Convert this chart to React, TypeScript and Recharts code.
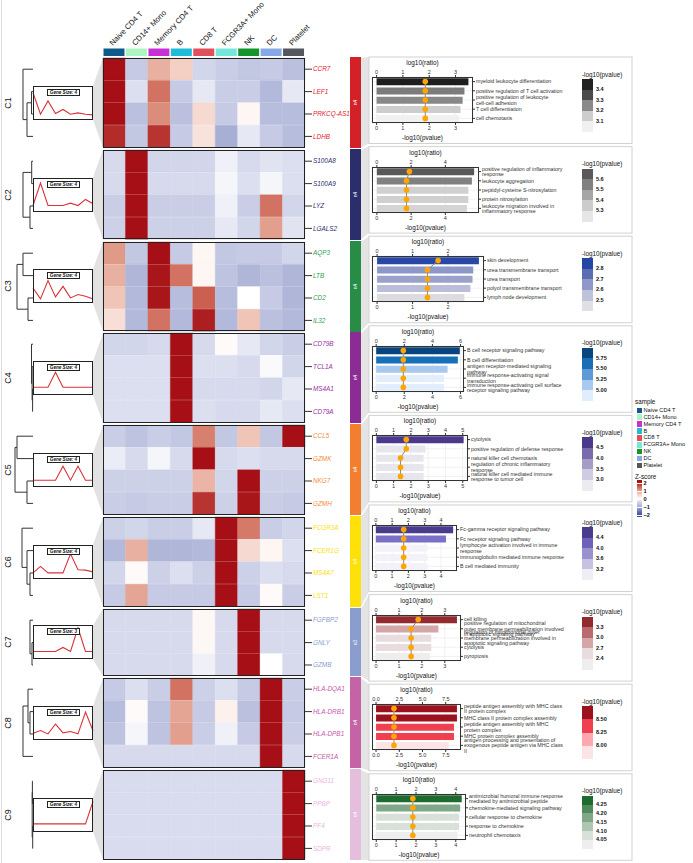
import React from 'react';
import {
  BarChart, Bar, Cell, XAxis, YAxis, LineChart, Line,
  ScatterChart, Scatter, ComposedChart, CartesianGrid,
} from 'recharts';

// ---------------- DATA ----------------
const SAMPLES = ['Naive CD4 T', 'CD14+ Mono', 'Memory CD4 T', 'B', 'CD8 T', 'FCGR3A+ Mono', 'NK', 'DC', 'Platelet'];
const SAMPLE_COLORS = ['#0E5A8A', '#ACF5C2', '#C92FD6', '#1EBCD6', '#E0505C', '#74E6DA', '#13952C', '#86A8E4', '#53575E'];

const CLUSTER_NAMES = ['C1', 'C2', 'C3', 'C4', 'C5', 'C6', 'C7', 'C8', 'C9'];
const CLUSTER_COLORS = ['#D42128', '#2B2E6A', '#268C46', '#8A2C93', '#F37E2E', '#FFE10A', '#8B9DCF', '#C463A6', '#E4BEDC'];
const LABEL_COLORS = ['#E4202C', '#2B2E6A', '#2E9E50', '#9A30A6', '#F58A3A', '#FFE10A', '#8B9DCF', '#C65AA8', '#E8B6E0'];
const CLUSTER_N = ['n4', 'n4', 'n4', 'n4', 'n4', 'n4', 'n3', 'n4', 'n4'];
const GENE_SIZE = [4, 4, 4, 4, 4, 4, 3, 4, 4];

const C1_GENES = ['CCR7', 'LEF1', 'PRKCQ-AS1', 'LDHB'];
const C2_GENES = ['S100A8', 'S100A9', 'LYZ', 'LGALS2'];
const C3_GENES = ['AQP3', 'LTB', 'CD2', 'IL32'];
const C4_GENES = ['CD79B', 'TCL1A', 'MS4A1', 'CD79A'];
const C5_GENES = ['CCL5', 'GZMK', 'NKG7', 'GZMH'];
const C6_GENES = ['FCGR3A', 'FCER1G', 'MS4A7', 'LST1'];
const C7_GENES = ['FGFBP2', 'GNLY', 'GZMB'];
const C8_GENES = ['HLA-DQA1', 'HLA-DRB1', 'HLA-DPB1', 'FCER1A'];
const C9_GENES = ['GNG11', 'PPBP', 'PF4', 'SDPR'];

const C1_Z = [
  [2.5, -0.6, 0.8, 0.5, -0.45, -0.55, -0.65, -0.6, -0.75],
  [2.5, -0.35, 1.3, -0.6, -0.25, -0.55, -0.55, -0.85, -0.25],
  [2.5, -0.75, 1.1, -0.75, 0.4, -0.6, 0.1, -0.8, -0.8],
  [1.8, -0.65, 1.75, -0.6, 0.3, -1.0, -0.25, -0.6, -0.8],
];
const C2_Z = [
  [-0.4, 2.5, -0.45, -0.45, -0.45, -0.15, -0.4, -0.3, -0.35],
  [-0.4, 2.5, -0.4, -0.4, -0.4, -0.1, -0.35, -0.1, -0.35],
  [-0.55, 2.5, -0.55, -0.55, -0.55, -0.15, -0.55, 1.3, -0.45],
  [-0.5, 2.5, -0.5, -0.5, -0.5, -0.25, -0.45, 0.95, -0.3],
];
const C3_Z = [
  [1.0, -0.65, 2.5, -0.6, 0.1, -0.65, -0.6, -0.6, -0.45],
  [0.8, -0.9, 1.95, 1.3, 0.1, -0.7, -0.9, -0.75, -0.9],
  [0.6, -0.85, 1.95, -0.8, 1.45, -0.8, 0.0, -0.6, -0.9],
  [0.35, -0.85, 1.3, -0.85, 1.9, -0.85, 0.6, -0.75, -0.85],
];
const C4_Z = [
  [-0.45, -0.45, -0.4, 2.5, -0.4, 0.05, -0.25, -0.45, -0.55],
  [-0.35, -0.35, -0.35, 2.5, -0.35, -0.35, -0.4, -0.05, -0.45],
  [-0.35, -0.35, -0.35, 2.5, -0.4, -0.4, -0.4, -0.45, -0.25],
  [-0.35, -0.35, -0.35, 2.5, -0.35, -0.4, -0.4, -0.25, -0.35],
];
const C5_Z = [
  [-0.55, -0.7, -0.55, -0.65, 1.2, -0.65, 0.6, -0.65, 2.5],
  [-0.2, -0.4, -0.1, -0.4, 2.5, -0.4, -0.35, -0.4, -0.4],
  [-0.5, -0.5, -0.5, -0.5, 0.75, -0.45, 2.5, -0.5, -0.5],
  [-0.55, -0.6, -0.55, -0.55, 1.75, -0.5, 1.95, -0.55, -0.6],
];
const C6_Z = [
  [-0.5, -0.45, -0.55, -0.55, -0.25, 2.5, 1.25, -0.55, -0.45],
  [-0.85, 0.8, -0.9, -0.9, -0.85, 2.5, 0.4, 0.1, -0.35],
  [-0.45, 0.05, -0.5, -0.35, -0.5, 2.5, -0.5, -0.35, -0.4],
  [-0.6, 0.9, -0.6, -0.6, -0.6, 2.5, -0.6, 0.05, -0.55],
];
const C7_Z = [
  [-0.4, -0.4, -0.4, -0.4, 0.08, -0.4, 2.5, -0.4, -0.4],
  [-0.4, -0.4, -0.4, -0.4, 0.08, -0.4, 2.5, -0.4, -0.4],
  [-0.4, -0.4, -0.4, -0.4, -0.15, -0.4, 2.5, 0.0, -0.4],
];
const C8_Z = [
  [-0.6, -0.35, -0.55, 1.3, -0.5, -0.35, -0.6, 2.5, -0.55],
  [-0.8, 0.05, -0.7, 0.9, -0.6, 0.15, -0.75, 2.5, -0.6],
  [-0.7, -0.1, -0.7, 0.95, -0.55, -0.15, -0.6, 2.5, -0.55],
  [-0.4, -0.4, -0.4, -0.4, -0.4, -0.4, -0.4, 2.5, -0.4],
];
const C9_Z = [
  [-0.38, -0.38, -0.38, -0.38, -0.38, -0.38, -0.38, -0.38, 2.5],
  [-0.38, -0.38, -0.38, -0.38, -0.38, -0.38, -0.38, -0.38, 2.5],
  [-0.38, -0.38, -0.38, -0.38, -0.38, -0.38, -0.38, -0.38, 2.5],
  [-0.38, -0.38, -0.38, -0.38, -0.38, -0.38, -0.38, -0.38, 2.5],
];

// mini line plots (cluster trend, per sample)
const C1_LINE = [0.8, 0.17, 0.56, 0.19, 0.31, 0.17, 0.21, 0.17, 0.15];
const C2_LINE = [0.19, 0.85, 0.19, 0.19, 0.19, 0.26, 0.19, 0.37, 0.24];
const C3_LINE = [0.44, 0.12, 0.66, 0.18, 0.49, 0.15, 0.25, 0.2, 0.12];
const C4_LINE = [0.23, 0.23, 0.23, 0.67, 0.23, 0.23, 0.23, 0.23, 0.23];
const C5_LINE = [0.2, 0.2, 0.2, 0.2, 0.61, 0.2, 0.61, 0.2, 0.2];
const C6_LINE = [0.18, 0.37, 0.18, 0.18, 0.18, 0.74, 0.27, 0.26, 0.21];
const C7_LINE = [0.22, 0.22, 0.22, 0.22, 0.34, 0.22, 0.92, 0.22, 0.22];
const C8_LINE = [0.2, 0.28, 0.18, 0.47, 0.21, 0.25, 0.18, 0.82, 0.27];
const C9_LINE = [0.24, 0.24, 0.24, 0.24, 0.24, 0.24, 0.24, 0.24, 0.9];

// dendrograms: polylines of [height, row position]
const C1_TREE = [
  [[0, 1], [1.5, 1], [1.5, 2], [0, 2]],
  [[1.5, 1.5], [6, 1.5], [6, 3], [0, 3]],
  [[0, 0], [10, 0], [10, 2.25], [6, 2.25]],
];
const C2_TREE = [
  [[0, 0], [1.3, 0], [1.3, 1], [0, 1]],
  [[0, 2], [3, 2], [3, 3], [0, 3]],
  [[1.3, 0.5], [10, 0.5], [10, 2.5], [3, 2.5]],
];
const C3_TREE = [
  [[0, 0], [10, 0], [10, 1], [0, 1]],
  [[0, 2], [5, 2], [5, 3], [0, 3]],
  [[10, 0.5], [16, 0.5], [16, 2.5], [5, 2.5]],
];
const C4_TREE = [
  [[0, 2], [0.4, 2], [0.4, 3], [0, 3]],
  [[0, 1], [0.9, 1], [0.9, 2.5], [0.4, 2.5]],
  [[0, 0], [1.5, 0], [1.5, 1.75], [0.9, 1.75]],
];
const C5_TREE = [
  [[0, 0], [16, 0], [16, 1], [0, 1]],
  [[0, 2], [6, 2], [6, 3], [0, 3]],
  [[16, 0.5], [18, 0.5], [18, 2.5], [6, 2.5]],
];
const C6_TREE = [
  [[0, 2], [3, 2], [3, 3], [0, 3]],
  [[0, 1], [6, 1], [6, 2.5], [3, 2.5]],
  [[0, 0], [11, 0], [11, 1.75], [6, 1.75]],
];
const C7_TREE = [
  [[0, 1], [1, 1], [1, 2], [0, 2]],
  [[0, 0], [3, 0], [3, 1.5], [1, 1.5]],
];
const C8_TREE = [
  [[0, 1], [3, 1], [3, 2], [0, 2]],
  [[0, 0], [5, 0], [5, 1.5], [3, 1.5]],
  [[5, 0.75], [10, 0.75], [10, 3], [0, 3]],
];
const C9_TREE = [
  [[0, 0], [0.6, 0], [0.6, 1], [0, 1]],
  [[0, 2], [0.3, 2], [0.3, 3], [0, 3]],
  [[0.6, 0.5], [0.8, 0.5], [0.8, 2.5], [0.3, 2.5]],
];

// enrichment panels
const C1_TERMS = ['myeloid leukocyte differentiation', 'positive regulation of T cell activation', 'positive regulation of leukocyte\ncell-cell adhesion', 'T cell differentiation', 'cell chemotaxis'];
const C1_PVAL = [3.49, 3.34, 3.27, 3.19, 3.14];
const C1_RATIO = [1.85, 1.85, 1.85, 1.85, 1.85];
const C1_BAR_COLORS = ['#1E1E1E', '#7C7C7C', '#888888', '#CDCDCD', '#F1F1F1'];
const C1_TICKS = [0, 1, 2, 3];
const C1_LEG_LABELS = ['3.4', '3.3', '3.2', '3.1'];
const C1_LEG_COLORS = ['#222222', '#4A4A4A', '#8A8A8A', '#CDCDCD', '#F0F0F0'];

const C2_TERMS = ['positive regulation of inflammatory\nresponse', 'leukocyte aggregation', 'peptidyl-cysteine S-nitrosylation', 'protein nitrosylation', 'leukocyte migration involved in\ninflammatory response'];
const C2_PVAL = [5.68, 5.55, 5.34, 5.34, 5.26];
const C2_RATIO = [1.9, 1.73, 1.73, 1.73, 1.73];
const C2_BAR_COLORS = ['#595959', '#808080', '#D0D0D0', '#D0D0D0', '#D4D4D4'];
const C2_TICKS = [0, 2, 4];
const C2_LEG_LABELS = ['5.6', '5.5', '5.4', '5.3'];
const C2_LEG_COLORS = ['#595959', '#808080', '#A6A6A6', '#CCCCCC', '#E6E6E6'];

const C3_TERMS = ['skin development', 'urea transmembrane transport', 'urea transport', 'polyol transmembrane transport', 'lymph node development'];
const C3_PVAL = [2.87, 2.71, 2.69, 2.63, 2.46];
const C3_RATIO = [1.72, 1.42, 1.42, 1.42, 1.42];
const C3_BAR_COLORS = ['#2847A6', '#8E98C8', '#9AA2CC', '#BABED9', '#DCDCE0'];
const C3_TICKS = [0, 1, 2];
const C3_LEG_LABELS = ['2.8', '2.7', '2.6', '2.5'];
const C3_LEG_COLORS = ['#2446A4', '#5C6CB2', '#8F98C6', '#BEC2DA', '#E0E0E4'];

const C4_TERMS = ['B cell receptor signaling pathway', 'B cell differentiation', 'antigen receptor-mediated signaling\npathway', 'immune response-activating signal\ntransduction', 'immune response-activating cell surface\nreceptor signaling pathway'];
const C4_PVAL = [5.95, 5.81, 5.08, 4.82, 4.82];
const C4_RATIO = [1.93, 1.93, 1.93, 1.93, 1.93];
const C4_BAR_COLORS = ['#08457E', '#1570B8', '#A8C8F0', '#E2EEFC', '#E2EEFC'];
const C4_TICKS = [0, 2, 4, 6];
const C4_LEG_LABELS = ['5.75', '5.50', '5.25', '5.00'];
const C4_LEG_COLORS = ['#08467E', '#1A6EB4', '#5E9AD6', '#A8C9F0', '#E0EDFC'];

const C5_TERMS = ['cytolysis', 'positive regulation of defense response', 'natural killer cell chemotaxis', 'regulation of chronic inflammatory\nresponse', 'natural killer cell mediated immune\nresponse to tumor cell'];
const C5_PVAL = [5.05, 2.85, 2.73, 2.73, 2.73];
const C5_RATIO = [1.73, 1.73, 1.4, 1.4, 1.4];
const C5_BAR_COLORS = ['#4B3A8C', '#E6E6EC', '#E6E6EC', '#E6E6EC', '#E6E6EC'];
const C5_TICKS = [0, 1, 2, 3, 4, 5];
const C5_LEG_LABELS = ['4.5', '4.0', '3.5', '3.0'];
const C5_LEG_COLORS = ['#4B3A8C', '#7A6CAC', '#A69DC7', '#CFCBE0', '#ECEBF1'];

const C6_TERMS = ['Fc-gamma receptor signaling pathway', 'Fc receptor signaling pathway', 'lymphocyte activation involved in immune\nresponse', 'immunoglobulin mediated immune response', 'B cell mediated immunity'];
const C6_PVAL = [4.75, 4.31, 3.17, 3.17, 3.17];
const C6_RATIO = [1.71, 1.71, 1.71, 1.71, 1.71];
const C6_BAR_COLORS = ['#4A3C8C', '#7B70C8', '#F2F2F8', '#F2F2F8', '#F2F2F8'];
const C6_TICKS = [0, 1, 2, 3, 4];
const C6_LEG_LABELS = ['4.4', '4.0', '3.6', '3.2'];
const C6_LEG_COLORS = ['#4A3C8C', '#6E62B8', '#9A92CF', '#C6C2E2', '#EEEEF4'];

const C7_TERMS = ['cell killing', 'positive regulation of mitochondrial\nouter membrane permeabilization involved\nin apoptotic signaling pathway', 'regulation of mitochondrial outer\nmembrane permeabilization involved in\napoptotic signaling pathway', 'cytolysis', 'pyroptosis'];
const C7_PVAL = [3.53, 2.72, 2.41, 2.41, 2.35];
const C7_RATIO = [1.84, 1.53, 1.53, 1.53, 1.53];
const C7_BAR_COLORS = ['#922B30', '#D4A6A8', '#E8DCDE', '#E8DCDE', '#EEEEEE'];
const C7_TICKS = [0, 1, 2, 3];
const C7_LEG_LABELS = ['3.3', '3.0', '2.7', '2.4'];
const C7_LEG_COLORS = ['#922B30', '#B86A6E', '#D4A6A8', '#E8DCDE', '#EEEEEE'];

const C8_TERMS = ['peptide antigen assembly with MHC class\nII protein complex', 'MHC class II protein complex assembly', 'peptide antigen assembly with MHC\nprotein complex', 'MHC protein complex assembly', 'antigen processing and presentation of\nexogenous peptide antigen via MHC class\nII'];
const C8_PVAL = [8.71, 8.71, 8.39, 8.39, 7.82];
const C8_RATIO = [1.93, 1.93, 1.93, 1.93, 1.93];
const C8_BAR_COLORS = ['#9B111E', '#9B111E', '#F04050', '#F04050', '#FCE4E6'];
const C8_TICKS = [0, 2.5, 5, 7.5];
const C8_LEG_LABELS = ['8.50', '8.25', '8.00'];
const C8_LEG_COLORS = ['#9B111E', '#F04050', '#FCA8AE', '#FCE4E6'];

const C9_TERMS = ['antimicrobial humoral immune response\nmediated by antimicrobial peptide', 'chemokine-mediated signaling pathway', 'cellular response to chemokine', 'response to chemokine', 'neutrophil chemotaxis'];
const C9_PVAL = [4.3, 4.22, 4.17, 4.17, 4.09];
const C9_RATIO = [1.84, 1.84, 1.84, 1.84, 1.84];
const C9_BAR_COLORS = ['#1E6B30', '#80A888', '#D8E0DA', '#D8E0DA', '#EEEEEE'];
const C9_TICKS = [0, 1, 2, 3, 4];
const C9_LEG_LABELS = ['4.25', '4.20', '4.15', '4.10', '4.05'];
const C9_LEG_COLORS = ['#1E6B30', '#4E8A5C', '#80A888', '#B0C6B4', '#D8E0DA', '#EEEEEE'];

const Z_LEGEND_LABELS = ['2', '1', '0', '\u22121', '\u22122'];

// ---------------- tables built from the arrays ----------------
const GENES = [C1_GENES, C2_GENES, C3_GENES, C4_GENES, C5_GENES, C6_GENES, C7_GENES, C8_GENES, C9_GENES];
const ZS = [C1_Z, C2_Z, C3_Z, C4_Z, C5_Z, C6_Z, C7_Z, C8_Z, C9_Z];
const LINES = [C1_LINE, C2_LINE, C3_LINE, C4_LINE, C5_LINE, C6_LINE, C7_LINE, C8_LINE, C9_LINE];
const TREES = [C1_TREE, C2_TREE, C3_TREE, C4_TREE, C5_TREE, C6_TREE, C7_TREE, C8_TREE, C9_TREE];
const ENRICH = [
  { terms: C1_TERMS, p: C1_PVAL, r: C1_RATIO, colors: C1_BAR_COLORS, ticks: C1_TICKS, legL: C1_LEG_LABELS, legC: C1_LEG_COLORS },
  { terms: C2_TERMS, p: C2_PVAL, r: C2_RATIO, colors: C2_BAR_COLORS, ticks: C2_TICKS, legL: C2_LEG_LABELS, legC: C2_LEG_COLORS },
  { terms: C3_TERMS, p: C3_PVAL, r: C3_RATIO, colors: C3_BAR_COLORS, ticks: C3_TICKS, legL: C3_LEG_LABELS, legC: C3_LEG_COLORS },
  { terms: C4_TERMS, p: C4_PVAL, r: C4_RATIO, colors: C4_BAR_COLORS, ticks: C4_TICKS, legL: C4_LEG_LABELS, legC: C4_LEG_COLORS },
  { terms: C5_TERMS, p: C5_PVAL, r: C5_RATIO, colors: C5_BAR_COLORS, ticks: C5_TICKS, legL: C5_LEG_LABELS, legC: C5_LEG_COLORS },
  { terms: C6_TERMS, p: C6_PVAL, r: C6_RATIO, colors: C6_BAR_COLORS, ticks: C6_TICKS, legL: C6_LEG_LABELS, legC: C6_LEG_COLORS },
  { terms: C7_TERMS, p: C7_PVAL, r: C7_RATIO, colors: C7_BAR_COLORS, ticks: C7_TICKS, legL: C7_LEG_LABELS, legC: C7_LEG_COLORS },
  { terms: C8_TERMS, p: C8_PVAL, r: C8_RATIO, colors: C8_BAR_COLORS, ticks: C8_TICKS, legL: C8_LEG_LABELS, legC: C8_LEG_COLORS },
  { terms: C9_TERMS, p: C9_PVAL, r: C9_RATIO, colors: C9_BAR_COLORS, ticks: C9_TICKS, legL: C9_LEG_LABELS, legC: C9_LEG_COLORS },
];

// ---------------- layout ----------------
const ROW_H = 22.4;
const GAP = 2.2;
const TOP0 = 58;
const HM_LEFT = 103;
const HM_W = 202;
const CLUSTER_TOPS: number[] = [];
{
  let t = TOP0;
  GENES.forEach((g) => { CLUSTER_TOPS.push(t); t += g.length * ROW_H + GAP; });
}
const PANEL_TOP0 = 57;
const PANEL_STEP = 89.6;
const PANEL_H = 86.5;
const PANEL_LEFT = 369;
const PANEL_RIGHT = 632;
const PLOT_LEFT = 372;
const PLOT_RIGHT = [473, 479, 484, 464, 468, 457, 461, 461, 466];
const BOX_L = 33, BOX_W = 60, BOX_H = 34;
const FONT = '"Liberation Sans", Arial, Helvetica, sans-serif';

const Z_STOPS: [number, string][] = [
  [-2, '#3C4A9E'], [-1, '#A8AFD4'], [-0.5, '#CDD1E8'], [0, '#FFFFFF'],
  [0.5, '#F4D0C4'], [1, '#E09A88'], [1.5, '#C9584A'], [2, '#A50F15'],
];
function hex(c: string) { return [1, 3, 5].map((i) => parseInt(c.slice(i, i + 2), 16)); }
function zColor(z: number) {
  const v = Math.max(-2, Math.min(2, z));
  for (let i = 0; i < Z_STOPS.length - 1; i++) {
    const [a, ca] = Z_STOPS[i];
    const [b, cb] = Z_STOPS[i + 1];
    if (v >= a && v <= b) {
      const t = (v - a) / (b - a);
      const A = hex(ca), B = hex(cb);
      const m = A.map((x, k) => Math.round(x + (B[k] - x) * t));
      return `rgb(${m[0]},${m[1]},${m[2]})`;
    }
  }
  return '#FFFFFF';
}

// ---------------- components ----------------
function HeaderTick(props: any) {
  const { x, y, payload } = props;
  return (
    <text transform={`translate(${x - 1.5},${y - 0.5}) rotate(-46)`} fontSize={7.7} fill="#111" textAnchor="start">
      {payload.value}
    </text>
  );
}

function Header() {
  const data = SAMPLES.map((s) => ({ s, v: 1 }));
  return (
    <div style={{ position: 'absolute', left: HM_LEFT, top: 0 }}>
      <BarChart width={HM_W} height={56} data={data} margin={{ top: 0, right: 0, bottom: 0, left: 0 }} barCategoryGap={0.5}>
        <XAxis dataKey="s" orientation="top" height={48.5} interval={0} tickLine={false} axisLine={false} tickSize={0} tickMargin={2} tick={<HeaderTick />} />
        <YAxis hide domain={[0, 1]} />
        <Bar dataKey="v" isAnimationActive={false}>
          {SAMPLE_COLORS.map((c, i) => <Cell key={i} fill={c} />)}
        </Bar>
      </BarChart>
    </div>
  );
}

function Heatmap({ ci }: { ci: number }) {
  const genes = GENES[ci];
  const z = ZS[ci];
  const rows = genes.map((g) => {
    const o: any = { gene: g };
    SAMPLES.forEach((_, j) => { o['s' + j] = 1; });
    return o;
  });
  const top = CLUSTER_TOPS[ci];
  const h = genes.length * ROW_H;
  const color = LABEL_COLORS[ci];
  const tick = (p: any) => (
    <text x={p.x} y={p.y} dy="0.35em" fontSize={6.4} fontStyle="italic" fill={color} textAnchor="start">
      {p.payload.value}
    </text>
  );
  return (
    <div style={{ position: 'absolute', left: HM_LEFT, top }}>
      <BarChart layout="vertical" width={HM_W + 50} height={h} data={rows} margin={{ top: 0, right: 0, bottom: 0, left: 0 }} barCategoryGap={0} barGap={0}>
        <XAxis type="number" hide domain={[0, SAMPLES.length]} />
        <YAxis type="category" dataKey="gene" orientation="right" width={50} interval={0} tickSize={7} tickMargin={1} axisLine={false} tickLine={{ stroke: '#333', strokeWidth: 1 }} tick={tick} />
        {SAMPLES.map((s, j) => (
          <Bar key={s} dataKey={'s' + j} stackId="hm" isAnimationActive={false}>
            {z.map((row, i) => <Cell key={i} fill={zColor(row[j])} stroke={zColor(row[j])} strokeWidth={0.4} />)}
          </Bar>
        ))}
      </BarChart>
      <div style={{ position: 'absolute', left: 0, top: 0, width: HM_W, height: h, border: '1.4px solid #222', boxSizing: 'border-box', pointerEvents: 'none' }} />
    </div>
  );
}

function MiniLine({ ci }: { ci: number }) {
  const n = GENES[ci].length;
  const center = CLUSTER_TOPS[ci] + (n * ROW_H) / 2;
  const top = center - BOX_H / 2;
  const data = LINES[ci].map((v, i) => ({ s: SAMPLES[i], v }));
  return (
    <div style={{ position: 'absolute', left: BOX_L, top, width: BOX_W, height: BOX_H }}>
      <div style={{ position: 'absolute', left: 0, top: 0, width: BOX_W, height: BOX_H, background: '#fff' }} />
      <div style={{ position: 'absolute', left: 0, top: 0 }}>
        <LineChart width={BOX_W} height={BOX_H} data={data} margin={{ top: 0, right: 0, bottom: 0, left: 0 }}>
          <XAxis dataKey="s" hide />
          <YAxis hide domain={[0, 1]} />
          <Line dataKey="v" type="linear" stroke="#D8333A" strokeWidth={1.1} dot={false} isAnimationActive={false} />
        </LineChart>
      </div>
      <div style={{ position: 'absolute', left: 0, top: 0, width: BOX_W, height: BOX_H, border: '1px solid #222', boxSizing: 'border-box' }} />
      <div style={{
        position: 'absolute', left: 14, top: 3, width: 33, height: 7, border: '0.8px solid #222', boxSizing: 'border-box',
        background: '#fff', fontSize: 4.6, lineHeight: '5.6px', textAlign: 'center', fontStyle: 'italic', fontWeight: 'bold', color: '#111',
      }}>
        {`Gene Size: ${GENE_SIZE[ci]}`}
      </div>
    </div>
  );
}

function Dendro({ ci }: { ci: number }) {
  const n = GENES[ci].length;
  const h = n * ROW_H;
  return (
    <div style={{ position: 'absolute', left: 11, top: CLUSTER_TOPS[ci] }}>
      <ScatterChart width={22} height={h} margin={{ top: 0, right: 0, bottom: 0, left: 0 }}>
        <XAxis type="number" dataKey="x" domain={[0, 22]} reversed hide />
        <YAxis type="number" dataKey="y" domain={[-0.5, n - 0.5]} reversed hide />
        {TREES[ci].map((poly, k) => (
          <Scatter
            key={k}
            data={poly.map(([x, y]) => ({ x, y }))}
            line={{ stroke: '#333', strokeWidth: 1 }}
            shape={() => <g />}
            isAnimationActive={false}
          />
        ))}
      </ScatterChart>
    </div>
  );
}

function TermTick(props: any) {
  const { x, y, payload } = props;
  const lines = String(payload.value).split('\n');
  const lh = 5.5;
  const y0 = y - ((lines.length - 1) * lh) / 2;
  return (
    <text x={x} y={y0} fontSize={5.3} fill="#333" textAnchor="start">
      {lines.map((l, i) => (
        <tspan key={i} x={x} y={y0 + i * lh} dy="0.35em">{l}</tspan>
      ))}
    </text>
  );
}

function EnrichPanel({ idx }: { idx: number }) {
  const e = ENRICH[idx];
  const pTop = PANEL_TOP0 + idx * PANEL_STEP;
  const plotR = PLOT_RIGHT[idx];
  const YAW = 150;
  const width = plotR - PANEL_LEFT + YAW;
  const max = Math.max(...e.p);
  const dom = [-0.05 * max, 1.05 * max];
  const dec = e.ticks.some((t) => !Number.isInteger(t));
  const fmt = (v: number) => (dec ? v.toFixed(1) : String(v));
  const data = e.terms.map((t, i) => ({ term: t, p: e.p[i], r: e.r[i] }));
  const n = e.legC.length;
  const stepH = 53 / n;
  return (
    <>
      <div style={{ position: 'absolute', left: PANEL_LEFT, top: pTop }}>
        <ComposedChart layout="vertical" width={width} height={86} data={data} margin={{ top: 0, right: 0, bottom: 0, left: PLOT_LEFT - PANEL_LEFT }} barCategoryGap="14%">
          <CartesianGrid xAxisId="b" stroke="#EBEBEB" strokeWidth={0.7} />
          <XAxis xAxisId="b" type="number" orientation="bottom" domain={dom} ticks={e.ticks} tickFormatter={fmt} height={20}
            tickSize={2} tickMargin={1} axisLine={false} tick={{ fontSize: 5.5, fill: '#333' }} tickLine={{ stroke: '#333' }}
            label={{ value: '-log10(pvalue)', position: 'insideBottom', offset: 3, fontSize: 6.4, fill: '#111' }} allowDataOverflow />
          <XAxis xAxisId="t" type="number" orientation="top" domain={dom} ticks={e.ticks} tickFormatter={fmt} height={20}
            tickSize={2} tickMargin={1} axisLine={false} tick={{ fontSize: 5.5, fill: '#333' }} tickLine={{ stroke: '#333' }}
            label={{ value: 'log10(ratio)', position: 'insideTop', offset: 3, fontSize: 6.4, fill: '#111' }} allowDataOverflow />
          <YAxis type="category" dataKey="term" orientation="right" width={YAW} interval={0} tickSize={2} tickMargin={1}
            axisLine={false} tickLine={{ stroke: '#333' }} tick={<TermTick />} />
          <Bar xAxisId="b" dataKey="p" isAnimationActive={false}>
            {e.colors.map((c, i) => <Cell key={i} fill={c} />)}
          </Bar>
          <Line xAxisId="t" dataKey="r" type="linear" stroke="#8A8A8A" strokeWidth={1}
            dot={{ r: 2.8, fill: '#FFA500', stroke: '#FFA500', strokeWidth: 0 }} isAnimationActive={false} />
        </ComposedChart>
        <div style={{ position: 'absolute', left: PLOT_LEFT - PANEL_LEFT, top: 20, width: plotR - PLOT_LEFT, height: 46, border: '1.1px solid #333', boxSizing: 'border-box', pointerEvents: 'none' }} />
      </div>
      <div style={{ position: 'absolute', left: 582, top: pTop + 12 }}>
        <div style={{ position: 'absolute', left: 0, top: 1.5, fontSize: 6.3, lineHeight: '7px', whiteSpace: 'nowrap', color: '#111' }}>-log10(pvalue)</div>
        {e.legC.map((c, k) => (
          <div key={k} style={{ position: 'absolute', left: 0, top: 10 + k * stepH, width: 11, height: stepH + 0.3, background: c }} />
        ))}
        {e.legL.map((l, k) => (
          <div key={l} style={{ position: 'absolute', left: 14, top: 10 + (k + 1) * stepH - 3.5, fontSize: 5.5, lineHeight: '7px', color: '#111', fontWeight: 'bold', whiteSpace: 'nowrap' }}>{l}</div>
        ))}
      </div>
    </>
  );
}

function Background() {
  const polys: React.ReactNode[] = [];
  GENES.forEach((g, ci) => {
    const top = CLUSTER_TOPS[ci];
    const bot = top + g.length * ROW_H;
    const center = (top + bot) / 2;
    const bt = center - BOX_H / 2, bb = center + BOX_H / 2;
    polys.push(<polygon key={'l' + ci} points={`${BOX_L + BOX_W},${bt} ${HM_LEFT},${top} ${HM_LEFT},${bot} ${BOX_L + BOX_W},${bb}`} fill="#E2E2E2" />);
    const pt = PANEL_TOP0 + ci * PANEL_STEP;
    const pb = pt + PANEL_H;
    polys.push(<polygon key={'m' + ci} points={`361,${top} ${PANEL_LEFT},${pt} ${PANEL_LEFT},${pb} 361,${bot}`} fill="#E4E4E4" />);
    polys.push(<rect key={'p' + ci} x={PANEL_LEFT} y={pt} width={PANEL_RIGHT - PANEL_LEFT} height={PANEL_H} fill="#fff" stroke="#D2D2D2" strokeWidth={1} />);
  });
  return (
    <svg width={693} height={863} style={{ position: 'absolute', left: 0, top: 0 }}>
      <line x1={1.5} y1={0} x2={1.5} y2={863} stroke="#DDDDDD" strokeWidth={1} />
      {polys}
    </svg>
  );
}

export default function App() {
  return (
    <div style={{ position: 'fixed', left: 0, top: 0, width: 693, height: 863, background: '#fff', fontFamily: FONT, overflow: 'hidden' }}>
      <style>{'svg.recharts-surface{overflow:visible}'}</style>
      <Background />
      <Header />
      {GENES.map((g, ci) => {
        const top = CLUSTER_TOPS[ci];
        const h = g.length * ROW_H;
        return (
          <React.Fragment key={ci}>
            <div style={{ position: 'absolute', left: 2, top: top + h / 2 - 6, width: 12, height: 12, display: 'flex', alignItems: 'center', justifyContent: 'center' }}>
              <div style={{ transform: 'rotate(-90deg)', fontSize: 9, color: '#111', whiteSpace: 'nowrap' }}>{CLUSTER_NAMES[ci]}</div>
            </div>
            <Dendro ci={ci} />
            <MiniLine ci={ci} />
            <Heatmap ci={ci} />
            <div style={{ position: 'absolute', left: 350, top: top - 1, width: 11, height: h + 1.5, background: CLUSTER_COLORS[ci], display: 'flex', alignItems: 'center', justifyContent: 'center' }}>
              <div style={{ transform: 'rotate(-90deg)', fontSize: 4.6, color: '#fff', whiteSpace: 'nowrap' }}>{CLUSTER_N[ci]}</div>
            </div>
            <EnrichPanel idx={ci} />
          </React.Fragment>
        );
      })}
      {/* sample legend */}
      <div style={{ position: 'absolute', left: 635, top: 398, fontSize: 6.3, lineHeight: '7px', color: '#111' }}>sample</div>
      {SAMPLES.map((s, k) => (
        <React.Fragment key={s}>
          <div style={{ position: 'absolute', left: 636.5, top: 407.5 + k * 6.9, width: 5.5, height: 5.5, background: SAMPLE_COLORS[k] }} />
          <div style={{ position: 'absolute', left: 643.5, top: 406.8 + k * 6.9, fontSize: 5.6, lineHeight: '7px', color: '#111', whiteSpace: 'nowrap' }}>{s}</div>
        </React.Fragment>
      ))}
      {/* z-score legend */}
      <div style={{ position: 'absolute', left: 635, top: 473, fontSize: 6.3, lineHeight: '7px', color: '#111' }}>Z-score</div>
      <div style={{
        position: 'absolute', left: 636.5, top: 480, width: 5.5, height: 37,
        background: `linear-gradient(to bottom, ${[...Z_STOPS].reverse().map(([z, c]) => `${c} ${((2 - z) / 4) * 89 + 5.5}%`).join(', ')})`,
      }} />
      {Z_LEGEND_LABELS.map((l, k) => (
        <React.Fragment key={l}>
          <div style={{ position: 'absolute', left: 636.5, top: 482.5 + k * 8.2, width: 5.5, height: 0.8, background: '#fff' }} />
          <div style={{ position: 'absolute', left: 643.5, top: 479.5 + k * 8.2, fontSize: 5.6, lineHeight: '7px', color: '#111', fontWeight: 'bold' }}>{l}</div>
        </React.Fragment>
      ))}
    </div>
  );
}
